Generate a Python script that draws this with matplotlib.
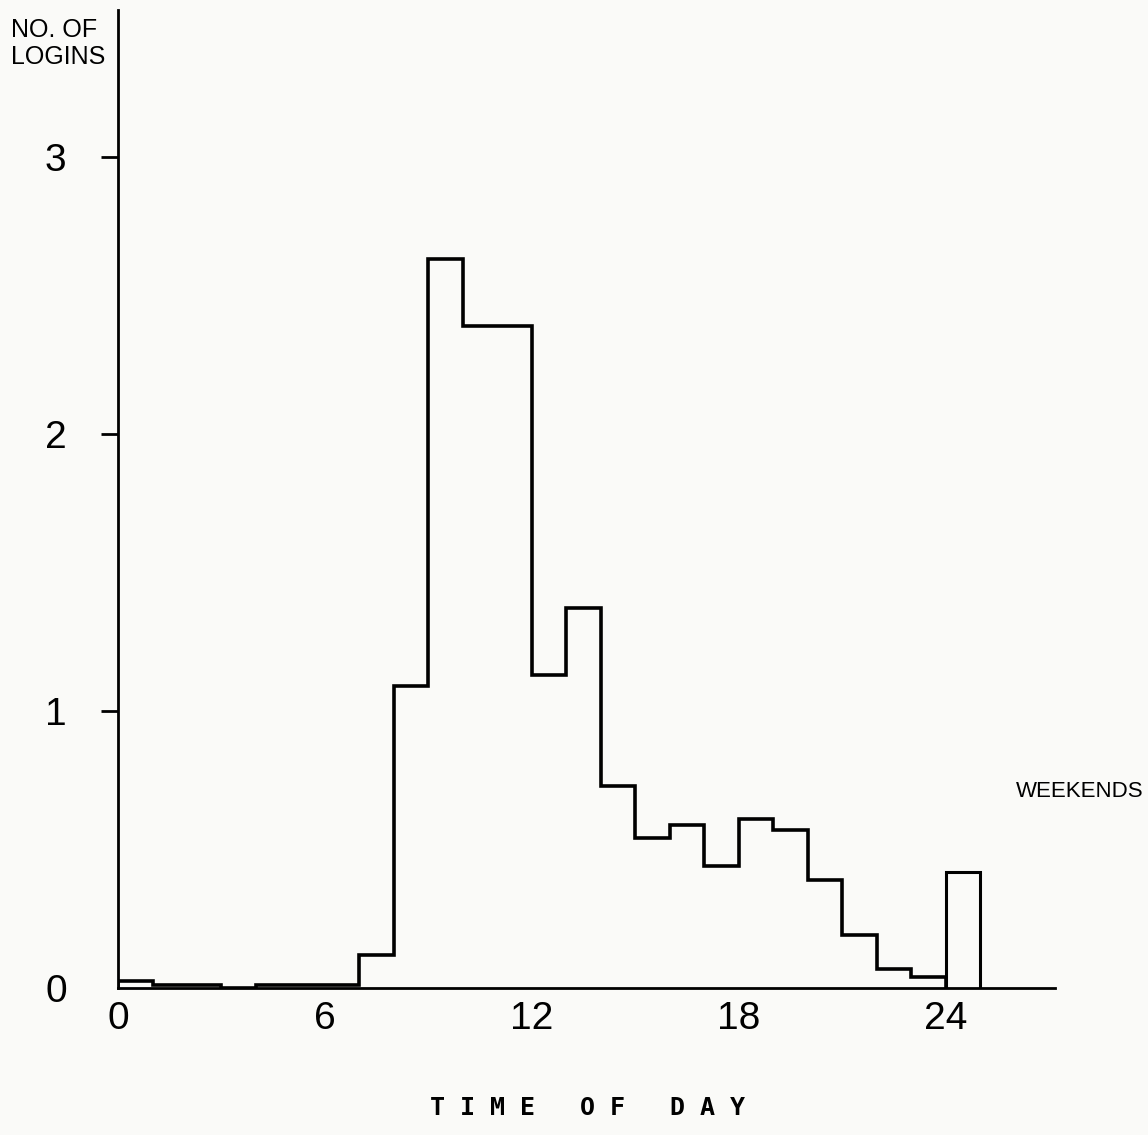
import numpy as np
import matplotlib
matplotlib.use("Agg")
import matplotlib.pyplot as plt

plt.rcParams['font.family'] = ['Liberation Sans', 'DejaVu Sans']

# mean logins per hour of the day (weekdays), one value per hour 0..23
hours = np.arange(0, 25)
logins = [0.025, 0.012, 0.012, 0.0, 0.01, 0.01, 0.01, 0.12,
          1.09, 2.63, 2.39, 2.39, 1.13, 1.37, 0.73, 0.54,
          0.59, 0.44, 0.61, 0.57, 0.39, 0.19, 0.07, 0.04]
# weekend average, drawn as its own bar after hour 24
weekend_edges = [24, 25]
weekend_logins = [0.42]

xticks = [0, 6, 12, 18, 24]
xtick_labels = ['0', '6', '12', '18', '24']
yticks = [0, 1, 2, 3]

fig = plt.figure(figsize=(11.48, 11.35), dpi=100, facecolor='#fafaf8')
ax = fig.add_axes([0.1028, 0.1295, 0.816, 0.8617])
ax.set_facecolor('#fafaf8')

ax.stairs(logins, hours, baseline=0, color='black', lw=2.6)
ax.stairs(weekend_logins, weekend_edges, baseline=0, color='black', lw=2.2)

ax.set_xlim(0, 27.16)
ax.set_ylim(0, 3.53)

for side in ['top', 'right']:
    ax.spines[side].set_visible(False)
for side in ['left', 'bottom']:
    ax.spines[side].set_linewidth(2)

ax.set_yticks(yticks)
ax.set_yticklabels([str(t) for t in yticks], fontsize=28)
ax.tick_params(axis='y', length=12, width=2, pad=25, direction='out')
ax.yaxis.get_major_ticks()[0].tick1line.set_visible(False)

ax.set_xticks(xticks)
ax.set_xticklabels(xtick_labels, fontsize=28)
ax.tick_params(axis='x', length=0, pad=9)

fig.text(0.010, 0.962, 'NO. OF\nLOGINS', fontsize=18, ha='left', va='center',
         linespacing=1.15)
fig.text(0.996, 0.303, 'WEEKENDS', fontsize=16, ha='right', va='center')
fig.text(0.512, 0.024, 'T I M E   O F   D A Y', fontsize=18, fontweight='bold',
         ha='center', va='center', family=['DejaVu Sans Mono'])

fig.savefig('out.png', dpi=100, facecolor=fig.get_facecolor())
